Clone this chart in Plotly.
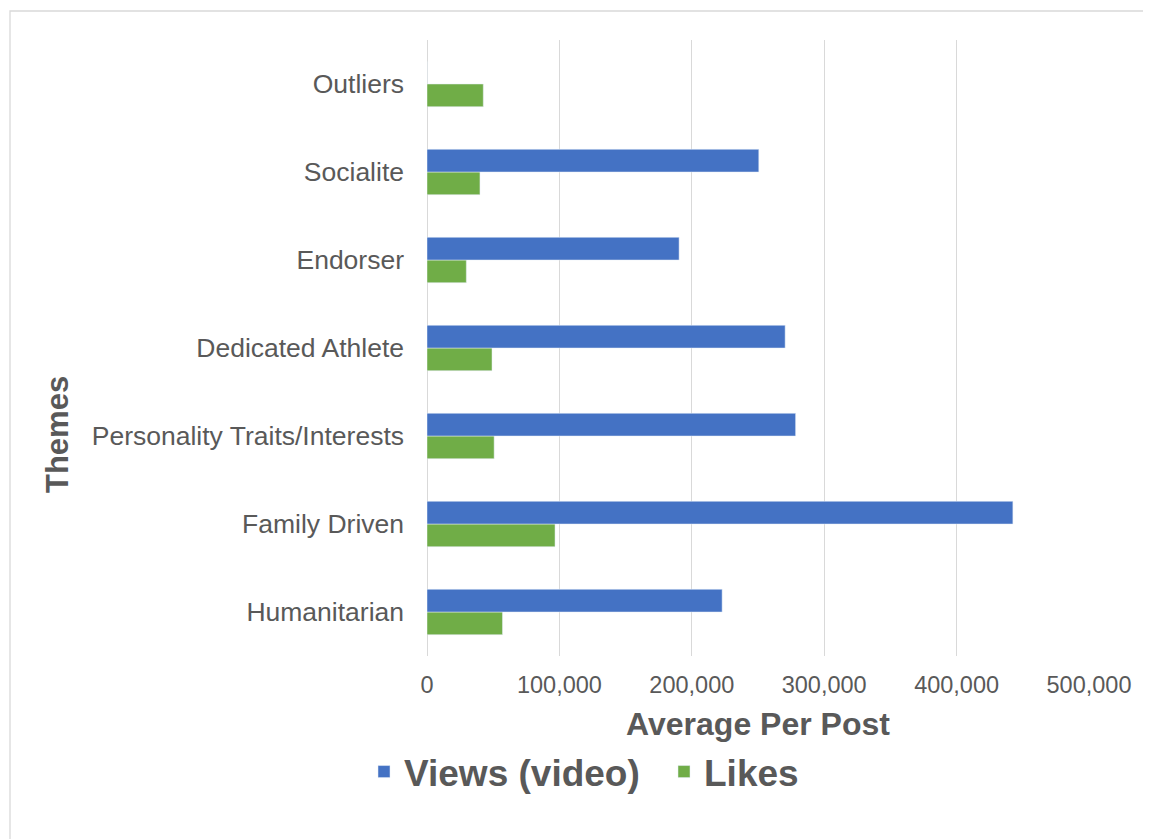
import plotly.graph_objects as go

themes = ["Humanitarian", "Family Driven", "Personality Traits/Interests",
          "Dedicated Athlete", "Endorser", "Socialite", "Outliers"]
views = [222900, 442500, 278400, 270500, 190400, 250600, 0]
likes = [57000, 96700, 50700, 49100, 29700, 40000, 42500]
x_ticks = [0, 100000, 200000, 300000, 400000, 500000]
x_tick_labels = ["0", "100,000", "200,000", "300,000", "400,000", "500,000"]

BLUE = "#4472C4"
GREEN = "#70AD47"
TXT = "#595959"
GRID = "#D9D9D9"
FONT = "Liberation Sans, Arial, sans-serif"

OFF = 8  # page body margin
W, H = 1151 - OFF, 839 - OFF
L, R, T, B = 427 - OFF, 1089 - OFF, 40 - OFF, 656 - OFF
pw, ph = R - L, B - T

def px_x(p):
    return (p - OFF - L) / pw

def px_y(p):
    return (B - (p - OFF)) / ph

fig = go.Figure()
fig.add_trace(go.Bar(y=themes, x=likes, name="Likes", orientation="h",
                     marker=dict(color=GREEN), legendrank=2))
fig.add_trace(go.Bar(y=themes, x=views, name="Views (video)", orientation="h",
                     marker=dict(color=BLUE), legendrank=1))

fig.update_layout(
    width=W, height=H,
    margin=dict(l=L, r=W - R, t=T, b=H - B, autoexpand=False),
    paper_bgcolor="white", plot_bgcolor="white",
    barmode="group", bargap=0.485, bargroupgap=0,
    font=dict(family=FONT, color=TXT),
    showlegend=True,
    legend=dict(orientation="h", xanchor="left", yanchor="middle",
                x=px_x(364), y=px_y(772),
                font=dict(size=37, color=TXT, family=FONT, weight="bold"),
                entrywidth=255, bgcolor="rgba(0,0,0,0)"),
    xaxis=dict(range=[0, 500000], tickvals=x_ticks, ticktext=x_tick_labels,
               showgrid=True, gridcolor=GRID, gridwidth=1.3,
               zeroline=True, zerolinecolor=GRID, zerolinewidth=1.3,
               showline=False, ticks="", ticklabelstandoff=12,
               tickfont=dict(size=23.5, color=TXT, family=FONT),
               title=dict(text="Average Per Post", standoff=16,
                          font=dict(size=32, color=TXT, family=FONT, weight="bold"))),
    yaxis=dict(categoryorder="array", categoryarray=themes,
               showgrid=False, zeroline=False, showline=False, ticks="",
               ticklabelstandoff=22,
               tickfont=dict(size=26.5, color=TXT, family=FONT)),
    shapes=[dict(type="rect", xref="paper", yref="paper", layer="below",
                 x0=px_x(10), x1=px_x(1170), y0=px_y(880), y1=px_y(11),
                 line=dict(color=GRID, width=1.3), fillcolor="rgba(0,0,0,0)")],
    annotations=[dict(text="Themes", xref="paper", yref="paper",
                      x=px_x(58), y=px_y(435), xanchor="center", yanchor="middle",
                      textangle=-90, showarrow=False,
                      font=dict(size=31, color=TXT, family=FONT, weight="bold"))],
)

fig.write_html("out.html")
